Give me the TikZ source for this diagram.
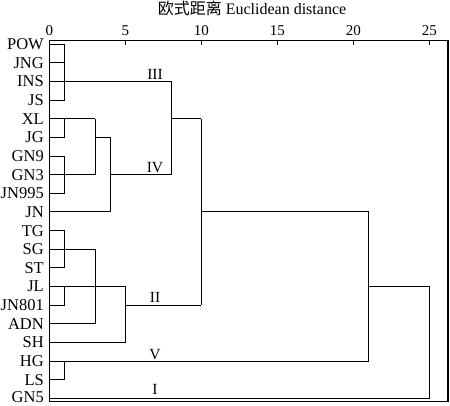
\documentclass[tikz,border=0pt]{standalone}
\usepackage{fontspec}
\setmainfont{Liberation Serif}
\newfontfamily\cjk{Noto Sans CJK SC}
\begin{document}
\begin{tikzpicture}[x=1bp,y=-1bp,line join=miter,
  leaf/.style={anchor=base east,inner sep=0pt,font=\fontsize{16.5bp}{18bp}\selectfont},
  ticklab/.style={anchor=base,inner sep=0pt,font=\fontsize{15bp}{16bp}\selectfont},
  clab/.style={anchor=base,inner sep=0pt,font=\fontsize{15.5bp}{17bp}\selectfont},
  tree/.style={line width=0.8bp},
  frame/.style={line width=1.2bp}]
\useasboundingbox (0,0) rectangle (450,405);
% rows and leaf labels
\foreach \n [count=\i from 0] in {POW,JNG,INS,JS,XL,JG,GN9,GN3,JN995,JN,TG,SG,ST,JL,JN801,ADN,SH,HG,LS}{
  \coordinate (r\i) at (49.3,44+18.65*\i);
  \node[leaf] (t\i) at (44,49.5+18.65*\i) {\n};
}
\coordinate (r19) at (49.3,398.35);
\node[leaf] (t19) at (44,402.6) {GN5};
% distance levels
\foreach \d in {0,1,3,4,5,8,10,15,20,21,25}{
  \coordinate (d\d) at (49.3+15.2*\d,0);
}
\coordinate (lx) at (155,0);
% frame, ticks, tick labels
\coordinate (fa) at (49.3,40.7);
\coordinate (fb) at (448,401.7);
\draw[frame] (fa) rectangle (fb);
\foreach \d in {5,10,15,20,25}{
  \draw[frame] (d\d |- fa) -- ([yshift=-4.5bp]d\d |- fa);
}
\foreach \d in {0,5,10,15,20,25}{
  \node[ticklab] (k\d) at ([yshift=5bp]d\d |- fa) {\d};
}
\node[anchor=base,inner sep=0pt,font=\fontsize{16bp}{18bp}\selectfont] (title) at (252,14) {{\cjk 欧式距离} Euclidean distance};
% cluster III
\draw[tree] (r0) -- (r0-|d1) -- (r3-|d1) -- (r3);
\draw[tree] (r1) -- (r1-|d1);
\draw[tree] (r2) -- (r2-|d8);
% cluster IV
\draw[tree] (r4) -- (r4-|d3);
\draw[tree] (r5) -- (r5-|d1);
\draw[tree] (r4-|d1) -- (r5-|d1);
\draw[tree] (r6) -- (r6-|d1) -- (r8-|d1) -- (r8);
\draw[tree] (r7) -- (r7-|d3);
\draw[tree] (r4-|d3) -- (r7-|d3);
\draw[tree] (r5-|d3) -- (r5-|d4);
\draw[tree] (r5-|d4) -- (r9-|d4) -- (r9);
\draw[tree] (r7-|d4) -- (r7-|d8);
\draw[tree] (r2-|d8) -- (r7-|d8);
\draw[tree] (r4-|d8) -- (r4-|d10);
% cluster II
\draw[tree] (r10) -- (r10-|d1) -- (r12-|d1) -- (r12);
\draw[tree] (r11) -- (r11-|d3);
\draw[tree] (r11-|d3) -- (r15-|d3) -- (r15);
\draw[tree] (r13) -- (r13-|d5);
\draw[tree] (r14) -- (r14-|d1);
\draw[tree] (r13-|d1) -- (r14-|d1);
\draw[tree] (r13-|d5) -- (r16-|d5) -- (r16);
\draw[tree] (r14-|d5) -- (r14-|d10);
\draw[tree] (r4-|d10) -- (r14-|d10);
\draw[tree] (r9-|d10) -- (r9-|d21);
% cluster V and I
\draw[tree] (r17) -- (r17-|d21);
\draw[tree] (r18) -- (r18-|d1);
\draw[tree] (r17-|d1) -- (r18-|d1);
\draw[tree] (r9-|d21) -- (r17-|d21);
\draw[tree] (r13-|d21) -- (r13-|d25);
\draw[tree] (r13-|d25) -- (r19-|d25) -- (r19);
% cluster labels
\node[clab] (cIII) at ([yshift=2bp]r2-|lx) {III};
\node[clab] (cIV) at ([yshift=2bp]r7-|lx) {IV};
\node[clab] (cII) at ([yshift=2.5bp]r14-|lx) {II};
\node[clab] (cV) at ([yshift=2bp]r17-|lx) {V};
\node[clab] (cI) at ([yshift=4bp]r19-|lx) {I};
\end{tikzpicture}
\end{document}
